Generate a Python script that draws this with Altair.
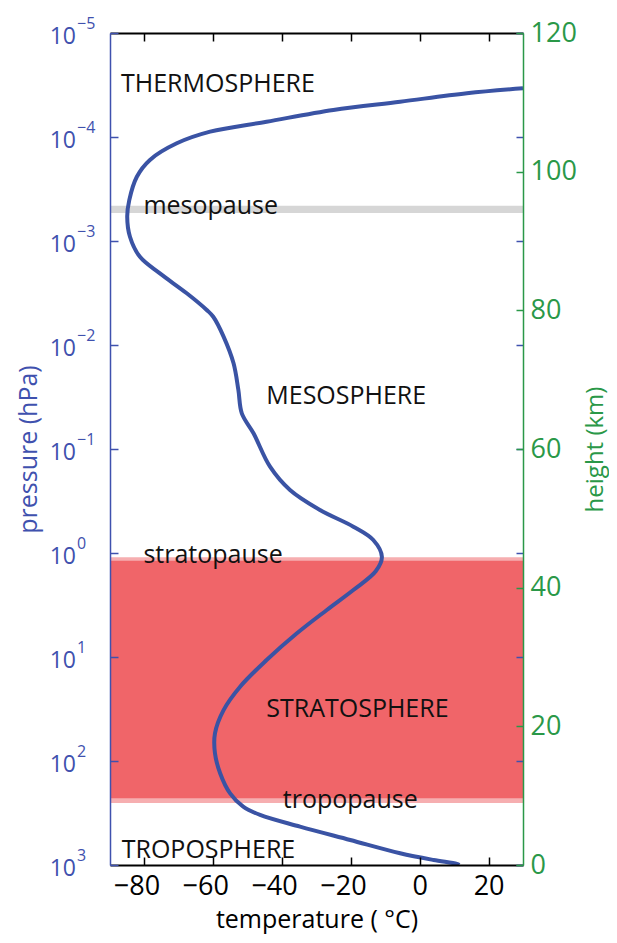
import altair as alt
import pandas as pd

# ---------------- data ----------------
# temperature profile, from the top of the plot down to the surface
temperature = [30, 13.7, -5.7, -25.1, -44.5, -60.9, -70.6, -78.4, -82.2, -84.4,
               -85.0, -84.2, -81.3, -75.5, -67.7, -61.9, -60.0, -57.0, -54.1, -52.7,
               -51.7, -48.3, -43.5, -37.7, -29.0, -19.3, -13.5, -11.0, -12.8, -19.3,
               -27.0, -35.7, -44.5, -52.2, -57.0, -59.5, -59.5, -58.0, -55.1, -51.3,
               -46.4, -34.8, -20.2, -5.7, 4.0, 10.8, 11.5]
pressure = [3.40e-5, 3.80e-5, 4.58e-5, 5.50e-5, 7.13e-5, 8.89e-5, 1.15e-4, 1.66e-4, 2.41e-4, 4.04e-4,
            5.83e-4, 9.10e-4, 1.42e-3, 2.05e-3, 3.18e-3, 4.60e-3, 5.35e-3, 8.3e-3, 1.50e-2, 2.71e-2,
            4.54e-2, 7.06e-2, 0.148, 0.248, 0.386, 0.558, 0.750, 1.09, 1.50, 2.27,
            3.53, 5.92, 10.7, 19.3, 32.4, 54.2, 84.4, 131, 205, 275,
            330, 428, 575, 771, 895, 977, 1000]

# layer bands (pressure limits, hPa)
band_names = ["stratopause/tropopause edge", "stratosphere", "mesopause"]
band_top = [1.100, 1.186, 4.59e-4]
band_bottom = [253.5, 228.4, 5.38e-4]
band_colors = ["#F6AEB0", "#F06569", "#D6D6D6"]

# text annotations (temperature, pressure of the text baseline start)
ann_text = ["THERMOSPHERE", "mesopause", "MESOSPHERE", "stratopause",
            "STRATOSPHERE", "tropopause", "TROPOSPHERE"]
ann_t = [-86.8, -80.3, -44.6, -80.3, -44.6, -39.8, -86.6]
ann_p = [3.69e-5, 5.50e-4, 0.0369, 1.247, 37.5, 281, 863]

# axes
x_ticks = [-80, -60, -40, -20, 0, 20]
p_ticks = [1e-5, 1e-4, 1e-3, 1e-2, 1e-1, 1e0, 1e1, 1e2, 1e3]
p_base = ["10"] * 9
p_exp = ["\u22125", "\u22124", "\u22123", "\u22122", "\u22121", "0", "1", "2", "3"]
h_ticks = [0, 20, 40, 60, 80, 100, 120]

T_MIN, T_MAX = -90, 30
P_MIN, P_MAX = 1e-5, 1e3
H_MIN, H_MAX = 0, 120

W, H = 413, 832
BLUE = "#3F51AE"
LINE = "#3A53A4"
GREEN = "#2A9848"
FONT = "Open Sans"

curve_df = pd.DataFrame({"t": temperature, "p": pressure, "i": list(range(len(temperature)))})
band_df = pd.DataFrame({"name": band_names, "top": band_top, "bottom": band_bottom,
                        "tl": [T_MIN] * 3, "tr": [T_MAX] * 3})
ann_df = pd.DataFrame({"label": ann_text, "t": ann_t, "p": ann_p})
ptl_df = pd.DataFrame({"p": p_ticks, "base": p_base, "exp": p_exp})
h_df = pd.DataFrame({"h": h_ticks})

xs = alt.Scale(domain=[T_MIN, T_MAX], nice=False, zero=False)
ps = alt.Scale(type="log", domain=[P_MIN, P_MAX], reverse=True, nice=False)
hs = alt.Scale(domain=[H_MIN, H_MAX], nice=False, zero=False)

# main axes
ax_bottom = alt.Axis(orient="bottom", values=x_ticks, ticks=False, tickSize=0,
                     domainColor="black", domainWidth=2, labelColor="black",
                     labelFontSize=27, labelPadding=8, labelFlush=False, labelOverlap=False,
                     labelOffset={"condition": {"test": "datum.value < 0", "value": -8}, "value": 0},
                     title="temperature ( \u00b0C)", titleColor="black", titleFontSize=25,
                     titleY=42, titleBaseline="top", zindex=1)
ax_left = alt.Axis(orient="left", labels=False, ticks=False, tickSize=0,
                   domainColor=BLUE, domainWidth=1.5,
                   title="pressure (hPa)", titleColor=BLUE, titleFontSize=25,
                   titleX=-69, titleAngle=270, titleBaseline="bottom", zindex=1)
# inward tick axes
ax_bottom_ticks = alt.Axis(orient="top", offset=-H, values=x_ticks, labels=False, domain=False,
                           tickColor="black", tickSize=8, tickWidth=1.5, title=None, zindex=1)
ax_top_ticks = alt.Axis(orient="bottom", offset=-H, values=x_ticks, labels=False,
                        domainColor="black", domainWidth=2,
                        tickColor="black", tickSize=8, tickWidth=1.5, title=None, zindex=1)
ax_left_ticks = alt.Axis(orient="right", offset=-W, values=p_ticks, labels=False, domain=False,
                         tickColor=BLUE, tickSize=8, tickWidth=1.5, title=None, zindex=1)
ax_right_pticks = alt.Axis(orient="left", offset=-W, values=p_ticks, labels=False, domain=False,
                           tickColor=BLUE, tickSize=7, tickWidth=1.5, title=None, zindex=1)
ax_right = alt.Axis(orient="right", values=h_ticks, ticks=False, tickSize=0,
                    domainColor=GREEN, domainWidth=1.5, labelColor=GREEN, labelFontSize=27,
                    labelPadding=7, labelFlush=False, labelOverlap=False,
                    title="height (km)", titleColor=GREEN, titleFontSize=24, titleAngle=270,
                    titleBaseline="top", titleX=60, zindex=1)
ax_right_hticks = alt.Axis(orient="left", offset=-W, values=h_ticks, labels=False, domain=False,
                           tickColor=GREEN, tickSize=7, tickWidth=1.5, title=None, zindex=1)

bands = alt.Chart(band_df).mark_rect().encode(
    x=alt.X("tl:Q", scale=xs, axis=ax_bottom),
    x2="tr:Q",
    y=alt.Y("top:Q", scale=ps, axis=ax_left),
    y2="bottom:Q",
    color=alt.Color("name:N", scale=alt.Scale(domain=band_names, range=band_colors), legend=None),
)

line = alt.Chart(curve_df).mark_line(color=LINE, strokeWidth=4, interpolate="catmull-rom",
                                     clip=True).encode(
    x=alt.X("t:Q", scale=xs, axis=ax_bottom_ticks),
    y=alt.Y("p:Q", scale=ps, axis=ax_left_ticks),
    order="i:Q",
)

ann = alt.Chart(ann_df).mark_text(align="left", baseline="alphabetic", fontSize=25,
                                  color="#111111", font=FONT).encode(
    x=alt.X("t:Q", scale=xs, axis=ax_top_ticks),
    y=alt.Y("p:Q", scale=ps, axis=ax_right_pticks),
    text="label:N",
)

p_base_text = alt.Chart(ptl_df).mark_text(align="right", baseline="middle", fontSize=23,
                                          color=BLUE, font=FONT, dy=4).encode(
    x=alt.value(-34),
    y=alt.Y("p:Q", scale=ps, axis=None),
    text="base:N",
)
p_exp_text = alt.Chart(ptl_df).mark_text(align="left", baseline="middle", fontSize=16,
                                         color=BLUE, font=FONT, dy=-9).encode(
    x=alt.value(-33),
    y=alt.Y("p:Q", scale=ps, axis=None),
    text="exp:N",
)

h_axis = alt.Chart(h_df).mark_point(opacity=0).encode(
    y=alt.Y("h:Q", scale=hs, axis=ax_right),
)
h_ticks_layer = alt.Chart(h_df).mark_point(opacity=0).encode(
    y=alt.Y("h:Q", scale=hs, axis=ax_right_hticks),
)

chart = alt.layer(
    bands, line, ann, p_base_text, p_exp_text, h_axis, h_ticks_layer
).resolve_scale(
    y="independent"
).resolve_axis(
    x="independent", y="independent"
).properties(
    width=W, height=H,
    autosize=alt.AutoSizeParams(type="none"),
    padding={"left": 102, "top": 25, "right": 86, "bottom": 70},
).configure_view(
    stroke=None
).configure_axis(
    grid=False, labelFont=FONT, titleFont=FONT, titleFontWeight="normal"
).configure_text(font=FONT)

chart.save("out.html", embed_options={"renderer": "svg", "actions": False})
